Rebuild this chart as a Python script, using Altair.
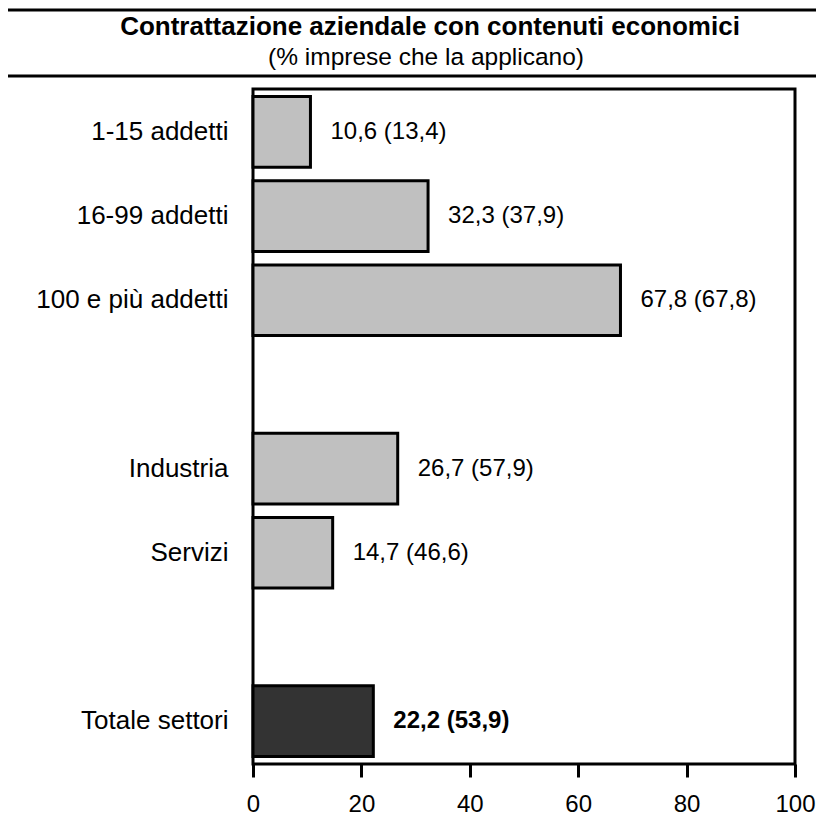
import altair as alt
import pandas as pd

categories = ["1-15 addetti", "16-99 addetti", "100 e più addetti",
              "Industria", "Servizi", "Totale settori"]
values = [10.6, 32.3, 67.8, 26.7, 14.7, 22.2]
previous = [13.4, 37.9, 67.8, 57.9, 46.6, 53.9]
groups = ["parte", "parte", "parte", "parte", "parte", "totale"]
# order of the vertical axis, with blank spacer rows between groups
axis_order = ["1-15 addetti", "16-99 addetti", "100 e più addetti", " ",
              "Industria", "Servizi", "  ", "Totale settori"]
x_ticks = [0, 20, 40, 60, 80, 100]

title_text = "Contrattazione aziendale con contenuti economici"
subtitle_text = "(% imprese che la applicano)"


def fmt(v):
    return f"{v:.1f}".replace(".", ",")


df = pd.DataFrame({
    "categoria": categories,
    "valore": values,
    "precedente": previous,
    "gruppo": groups,
})
df["etichetta"] = [f"{fmt(a)} ({fmt(b)})" for a, b in zip(values, previous)]

FONT = "Liberation Sans"

y_enc = alt.Y("categoria:N", sort=axis_order,
              scale=alt.Scale(domain=axis_order, paddingInner=0.16, paddingOuter=0.09),
              axis=alt.Axis(title=None, ticks=False, tickSize=0, domain=False,
                            labelFontSize=26, labelColor="black", labelPadding=25,
                            labelFont=FONT, labelLimit=400))
x_enc = alt.X("valore:Q",
              scale=alt.Scale(domain=[0, 100], nice=False),
              axis=alt.Axis(title=None, values=x_ticks, grid=False, domain=False,
                            tickColor="black", tickWidth=3, tickSize=13,
                            labelFontSize=24, labelColor="black", labelPadding=15,
                            labelFont=FONT, labelFlush=False))

base = alt.Chart(df)

bars = base.mark_bar(stroke="black", strokeWidth=3).encode(
    y=y_enc,
    x=x_enc,
    color=alt.Color("gruppo:N", scale=alt.Scale(domain=["parte", "totale"],
                                                range=["#C0C0C0", "#333333"]),
                    legend=None),
)

labels_normal = base.transform_filter(alt.datum.gruppo == "parte").mark_text(
    align="left", baseline="middle", dx=20, fontSize=24, font=FONT, color="black"
).encode(y=alt.Y("categoria:N", sort=axis_order), x="valore:Q", text="etichetta:N")

labels_bold = base.transform_filter(alt.datum.gruppo == "totale").mark_text(
    align="left", baseline="middle", dx=20, fontSize=24, font=FONT, color="black",
    fontWeight="bold"
).encode(y=alt.Y("categoria:N", sort=axis_order), x="valore:Q", text="etichetta:N")

one = alt.Data(values=[{}])

title_mark = alt.Chart(one).mark_text(
    text=title_text, fontSize=26, fontWeight="bold", font=FONT, color="black",
    align="center", baseline="alphabetic"
).encode(x=alt.value(177), y=alt.value(-54))

subtitle_mark = alt.Chart(one).mark_text(
    text=subtitle_text, fontSize=24.5, font=FONT, color="black",
    align="center", baseline="alphabetic"
).encode(x=alt.value(173), y=alt.value(-24))

top_line = alt.Chart(one).mark_rule(color="black", strokeWidth=3).encode(
    x=alt.value(-250), x2=alt.value(580), y=alt.value(-79))
mid_line = alt.Chart(one).mark_rule(color="black", strokeWidth=3).encode(
    x=alt.value(-250), x2=alt.value(580), y=alt.value(-13))

chart = alt.layer(
    bars, labels_normal, labels_bold, title_mark, subtitle_mark, top_line, mid_line
).properties(
    width=542,
    height=675,
    autosize=alt.AutoSizeParams(type="none"),
    padding={"left": 245, "top": 81, "right": 21, "bottom": 54},
).configure(
    background="white"
).configure_view(
    stroke="black", strokeWidth=3, fill="white"
)

chart.save("out.html", embed_options={"renderer": "svg", "actions": False})
